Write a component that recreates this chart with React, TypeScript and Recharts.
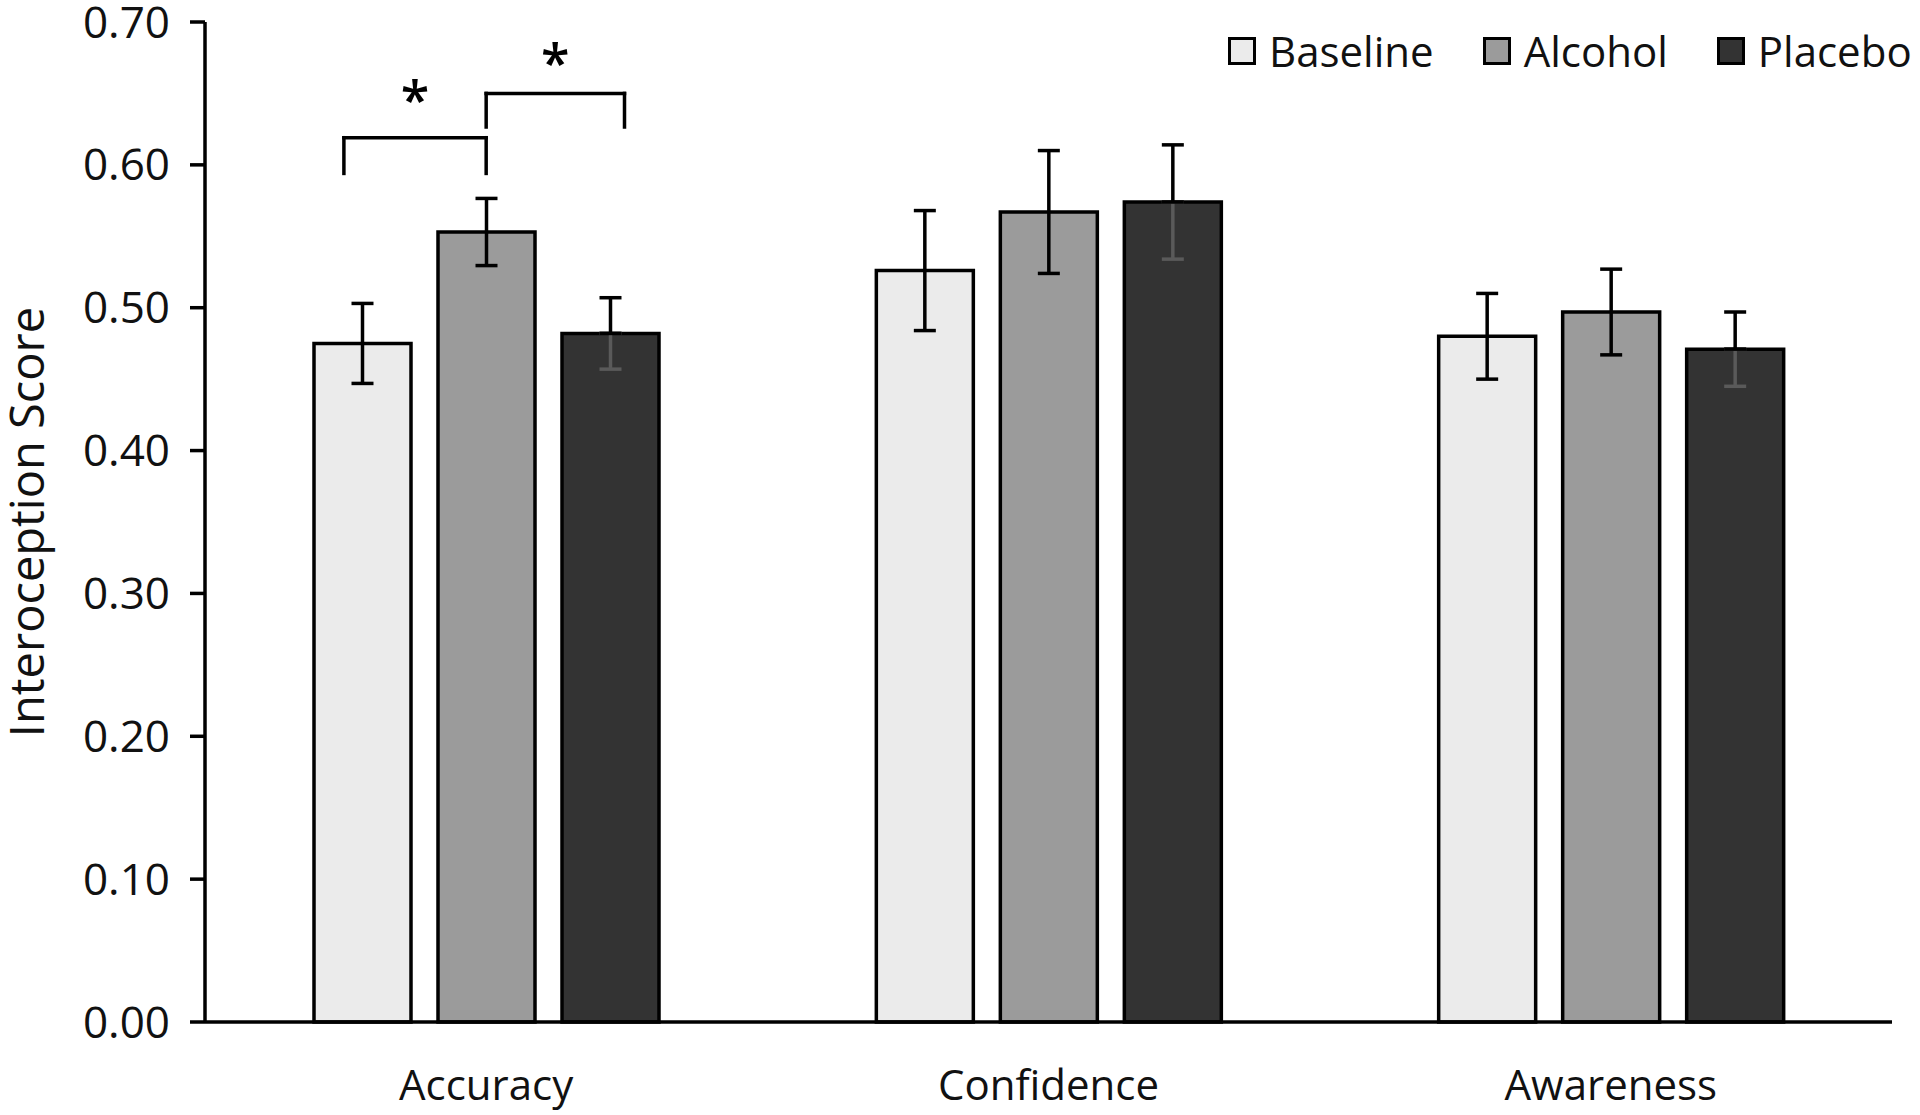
import { Bar, BarChart, ErrorBar, Label, Legend, ReferenceDot, ReferenceLine, XAxis, YAxis } from 'recharts';

const categories = ['Accuracy', 'Confidence', 'Awareness'];
const baseline = [0.475, 0.526, 0.48];
const baselineErr = [0.028, 0.042, 0.03];
const alcohol = [0.553, 0.567, 0.497];
const alcoholErr = [0.0235, 0.043, 0.03];
const placebo = [0.482, 0.574, 0.471];
const placeboErr = [0.025, 0.04, 0.026];
const yTicks = [0, 0.1, 0.2, 0.3, 0.4, 0.5, 0.6, 0.7];

// significance brackets, x in category units (0..3 across the axis)
const bracketLeft = [0.247, 0.5];
const bracketRight = [0.5, 0.746];
const bracketTop = [0.619, 0.65];
const bracketFoot = [0.594, 0.6265];
const starLevel = [0.651, 0.677];

const FONT = '"Open Sans", "Noto Sans", sans-serif';
const INK = '#111';

const series = [
  { key: 'baseline', name: 'Baseline', fill: '#ebebeb' },
  { key: 'alcohol', name: 'Alcohol', fill: '#9b9b9b' },
  { key: 'placebo', name: 'Placebo', fill: '#333333' },
];

const data = categories.map((name, i) => ({
  name,
  pos: i + 0.5,
  baseline: baseline[i],
  baselineErr: baselineErr[i],
  alcohol: alcohol[i],
  alcoholErr: alcoholErr[i],
  placebo: placebo[i],
  placeboUp: [0, placeboErr[i]],
  placeboDown: [placeboErr[i], 0],
}));

function LegendBox() {
  return (
    <div style={{ display: 'flex', alignItems: 'center', fontFamily: FONT, fontSize: 42, color: INK, lineHeight: '50px' }}>
      {series.map((s, i) => (
        <div key={s.key} style={{ display: 'flex', alignItems: 'center', marginLeft: i === 0 ? 0 : 49 }}>
          <span
            style={{
              display: 'inline-block',
              width: 22,
              height: 22,
              background: s.fill,
              border: '3.5px solid #000',
              marginRight: 13,
            }}
          />
          <span>{s.name}</span>
        </div>
      ))}
    </div>
  );
}

function YTitle(props: any) {
  const { viewBox } = props;
  const cx = viewBox.x + 26;
  const cy = viewBox.y + viewBox.height / 2;
  return (
    <text
      x={cx}
      y={cy}
      transform={`rotate(-90, ${cx}, ${cy})`}
      textAnchor="middle"
      dominantBaseline="central"
      fontFamily={FONT}
      fontSize={47}
      fill={INK}
    >
      Interoception Score
    </text>
  );
}

function Star(props: any) {
  return (
    <text x={props.cx} y={props.cy + 27} textAnchor="middle" fontFamily={FONT} fontSize={52} fontWeight={600} fill="#000">
      *
    </text>
  );
}

export default function App() {
  const line = { stroke: '#000', strokeWidth: 3.5 };
  return (
    <div style={{ position: 'absolute', left: 0, top: 0, background: '#fff' }}>
      <BarChart
        width={1920}
        height={1115}
        data={data}
        margin={{ top: 22, right: 28, left: 0, bottom: 0 }}
        barSize={97}
        barGap={27}
      >
        <XAxis
          dataKey="name"
          height={93}
          tickLine={false}
          tickSize={0}
          tickMargin={48}
          axisLine={line}
          tick={{ fontFamily: FONT, fontSize: 42, fill: INK }}
        />
        <XAxis xAxisId="n" dataKey="pos" type="number" domain={[0, 3]} allowDataOverflow hide />
        <YAxis
          width={205}
          domain={[0, 0.7]}
          ticks={yTicks}
          interval={0}
          tickFormatter={(v: number) => v.toFixed(2)}
          tickSize={15}
          tickMargin={20}
          axisLine={line}
          tickLine={line}
          tick={{ fontFamily: FONT, fontSize: 44, fill: INK }}
        >
          <Label content={YTitle} />
        </YAxis>
        <Legend
          verticalAlign="middle"
          align="center"
          content={() => <LegendBox />}
          wrapperStyle={{ top: 26, left: 1228, right: 'auto', width: 'auto' }}
        />
        <Bar dataKey="baseline" name="Baseline" fill="#ebebeb" stroke="#000" strokeWidth={3.5} isAnimationActive={false}>
          <ErrorBar dataKey="baselineErr" direction="y" width={11} stroke="#000" strokeWidth={3.5} isAnimationActive={false} />
        </Bar>
        <Bar dataKey="alcohol" name="Alcohol" fill="#9b9b9b" stroke="#000" strokeWidth={3.5} isAnimationActive={false}>
          <ErrorBar dataKey="alcoholErr" direction="y" width={11} stroke="#000" strokeWidth={3.5} isAnimationActive={false} />
        </Bar>
        <Bar dataKey="placebo" name="Placebo" fill="#333333" stroke="#000" strokeWidth={3.5} isAnimationActive={false}>
          <ErrorBar dataKey="placeboDown" direction="y" width={11} stroke="#5a5a5a" strokeWidth={3.5} isAnimationActive={false} />
          <ErrorBar dataKey="placeboUp" direction="y" width={11} stroke="#000" strokeWidth={3.5} isAnimationActive={false} />
        </Bar>
        {bracketLeft.map((x1, i) => {
          const x2 = bracketRight[i];
          const top = bracketTop[i];
          const foot = bracketFoot[i];
          return [
            <ReferenceLine key={`l${i}`} xAxisId="n" segment={[{ x: x1, y: foot }, { x: x1, y: top }]} stroke="#000" strokeWidth={3.5} strokeLinecap="square" />,
            <ReferenceLine key={`t${i}`} xAxisId="n" segment={[{ x: x1, y: top }, { x: x2, y: top }]} stroke="#000" strokeWidth={3.5} strokeLinecap="square" />,
            <ReferenceLine key={`r${i}`} xAxisId="n" segment={[{ x: x2, y: top }, { x: x2, y: foot }]} stroke="#000" strokeWidth={3.5} strokeLinecap="square" />,
            <ReferenceDot key={`s${i}`} xAxisId="n" x={(x1 + x2) / 2} y={starLevel[i]} r={0} shape={Star} />,
          ];
        })}
      </BarChart>
    </div>
  );
}
